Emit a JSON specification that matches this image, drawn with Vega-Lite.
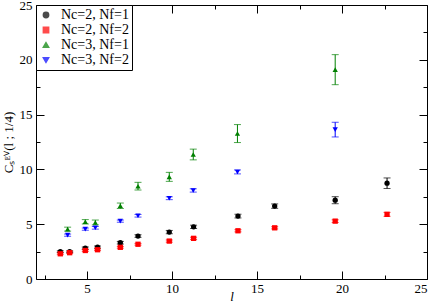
{
  "$schema": "https://vega.github.io/schema/vega-lite/v6.json",
  "width": 391,
  "height": 274,
  "autosize": {"type": "none"},
  "padding": {"left": 36, "top": 5, "right": 6, "bottom": 24},
  "config": {
    "view": {"stroke": "black", "strokeWidth": 1},
    "font": "Liberation Serif",
    "axis": {"grid": false, "domain": false, "ticks": true, "zindex": 2, "tickColor": "#000000", "tickOpacity": 1, "tickWidth": 1, "labelFont": "Liberation Serif", "labelFontSize": 13, "labelColor": "black", "titleFont": "Liberation Serif", "titleColor": "black", "titleFontSize": 14, "titleFontWeight": "normal"},
    "legend": {"labelFont": "Liberation Serif"}
  },
  "data": {"values": [
    {"series": "Nc=2, Nf=1", "x": 3.43, "y": 2.49, "lo": 2.41, "hi": 2.57},
    {"series": "Nc=2, Nf=1", "x": 3.98, "y": 2.49, "lo": 2.41, "hi": 2.57},
    {"series": "Nc=2, Nf=1", "x": 4.9, "y": 2.82, "lo": 2.72, "hi": 2.92},
    {"series": "Nc=2, Nf=1", "x": 5.62, "y": 2.91, "lo": 2.81, "hi": 3.01},
    {"series": "Nc=2, Nf=1", "x": 6.96, "y": 3.31, "lo": 3.19, "hi": 3.43},
    {"series": "Nc=2, Nf=1", "x": 8.0, "y": 3.92, "lo": 3.8, "hi": 4.04},
    {"series": "Nc=2, Nf=1", "x": 9.84, "y": 4.28, "lo": 4.13, "hi": 4.43},
    {"series": "Nc=2, Nf=1", "x": 11.27, "y": 4.76, "lo": 4.61, "hi": 4.91},
    {"series": "Nc=2, Nf=1", "x": 13.88, "y": 5.74, "lo": 5.57, "hi": 5.91},
    {"series": "Nc=2, Nf=1", "x": 16.04, "y": 6.65, "lo": 6.45, "hi": 6.85},
    {"series": "Nc=2, Nf=1", "x": 19.6, "y": 7.19, "lo": 6.87, "hi": 7.51},
    {"series": "Nc=2, Nf=1", "x": 22.65, "y": 8.74, "lo": 8.26, "hi": 9.22},
    {"series": "Nc=2, Nf=2", "x": 3.43, "y": 2.3, "lo": 2.22, "hi": 2.38},
    {"series": "Nc=2, Nf=2", "x": 3.98, "y": 2.4, "lo": 2.32, "hi": 2.48},
    {"series": "Nc=2, Nf=2", "x": 4.9, "y": 2.6, "lo": 2.52, "hi": 2.68},
    {"series": "Nc=2, Nf=2", "x": 5.62, "y": 2.67, "lo": 2.59, "hi": 2.75},
    {"series": "Nc=2, Nf=2", "x": 6.96, "y": 2.89, "lo": 2.81, "hi": 2.97},
    {"series": "Nc=2, Nf=2", "x": 8.0, "y": 3.17, "lo": 3.09, "hi": 3.25},
    {"series": "Nc=2, Nf=2", "x": 9.84, "y": 3.46, "lo": 3.36, "hi": 3.56},
    {"series": "Nc=2, Nf=2", "x": 11.27, "y": 3.71, "lo": 3.61, "hi": 3.81},
    {"series": "Nc=2, Nf=2", "x": 13.88, "y": 4.4, "lo": 4.3, "hi": 4.5},
    {"series": "Nc=2, Nf=2", "x": 16.04, "y": 4.67, "lo": 4.57, "hi": 4.77},
    {"series": "Nc=2, Nf=2", "x": 19.6, "y": 5.28, "lo": 5.16, "hi": 5.4},
    {"series": "Nc=2, Nf=2", "x": 22.65, "y": 5.9, "lo": 5.72, "hi": 6.08},
    {"series": "Nc=3, Nf=1", "x": 3.86, "y": 4.55, "lo": 4.37, "hi": 4.73},
    {"series": "Nc=3, Nf=1", "x": 4.9, "y": 5.22, "lo": 5.02, "hi": 5.42},
    {"series": "Nc=3, Nf=1", "x": 5.49, "y": 5.16, "lo": 4.94, "hi": 5.38},
    {"series": "Nc=3, Nf=1", "x": 6.96, "y": 6.68, "lo": 6.43, "hi": 6.93},
    {"series": "Nc=3, Nf=1", "x": 8.0, "y": 8.47, "lo": 8.12, "hi": 8.82},
    {"series": "Nc=3, Nf=1", "x": 9.84, "y": 9.32, "lo": 8.91, "hi": 9.73},
    {"series": "Nc=3, Nf=1", "x": 11.25, "y": 11.36, "lo": 10.87, "hi": 11.85},
    {"series": "Nc=3, Nf=1", "x": 13.85, "y": 13.27, "lo": 12.45, "hi": 14.09},
    {"series": "Nc=3, Nf=1", "x": 19.6, "y": 19.1, "lo": 17.73, "hi": 20.47},
    {"series": "Nc=3, Nf=2", "x": 3.86, "y": 4.0, "lo": 3.9, "hi": 4.1},
    {"series": "Nc=3, Nf=2", "x": 4.9, "y": 4.55, "lo": 4.45, "hi": 4.65},
    {"series": "Nc=3, Nf=2", "x": 5.49, "y": 4.67, "lo": 4.55, "hi": 4.79},
    {"series": "Nc=3, Nf=2", "x": 6.96, "y": 5.28, "lo": 5.18, "hi": 5.38},
    {"series": "Nc=3, Nf=2", "x": 8.0, "y": 5.77, "lo": 5.65, "hi": 5.89},
    {"series": "Nc=3, Nf=2", "x": 9.84, "y": 7.37, "lo": 7.24, "hi": 7.5},
    {"series": "Nc=3, Nf=2", "x": 11.25, "y": 8.08, "lo": 7.93, "hi": 8.23},
    {"series": "Nc=3, Nf=2", "x": 13.85, "y": 9.77, "lo": 9.59, "hi": 9.95},
    {"series": "Nc=3, Nf=2", "x": 19.6, "y": 13.63, "lo": 12.96, "hi": 14.3}
  ]},
  "layer": [
    {
      "mark": {"type": "rule", "strokeWidth": 1},
      "encoding": {
        "x": {"field": "x", "type": "quantitative", "scale": {"domain": [2, 25], "nice": false, "zero": false},
          "axis": {"orient": "bottom", "values": [5, 10, 15, 20, 25], "offset": -8, "tickSize": 8, "labelPadding": 3, "title": "l", "titleFontStyle": "italic", "titleFontSize": 13, "titlePadding": -5}},
        "y": {"field": "lo", "type": "quantitative", "scale": {"domain": [0, 25], "nice": false},
          "axis": {"orient": "left", "values": [0, 5, 10, 15, 20, 25], "offset": -8, "tickSize": 8, "labelPadding": 4, "title": "Cₛᴱⱽ(l ; 1/4)", "titleFontSize": 13, "titlePadding": 4}},
        "y2": {"field": "hi"},
        "color": {"field": "series", "type": "nominal", "title": null,
          "scale": {"domain": ["Nc=2, Nf=1", "Nc=2, Nf=2", "Nc=3, Nf=1", "Nc=3, Nf=2"], "range": ["black", "red", "green", "blue"]},
          "legend": {"orient": "top-left", "offset": 0, "zindex": 3, "strokeColor": "black", "fillColor": "white", "padding": 3, "labelFont": "Liberation Serif", "labelFontSize": 14, "labelColor": "black", "rowPadding": 1, "symbolSize": 28, "symbolOpacity": 1, "labelOffset": 8}}
      }
    },
    {
      "mark": {"type": "tick", "orient": "horizontal", "size": 7, "thickness": 1},
      "encoding": {
        "x": {"field": "x", "type": "quantitative",
          "axis": {"orient": "bottom", "values": [2.5, 7.5, 12.5, 17.5, 22.5], "offset": -4, "tickSize": 4, "labels": false, "title": null}},
        "y": {"field": "lo", "type": "quantitative",
          "axis": {"orient": "left", "values": [2.5, 7.5, 12.5, 17.5, 22.5], "offset": -4, "tickSize": 4, "labels": false, "title": null}},
        "color": {"field": "series", "type": "nominal"}
      }
    },
    {
      "mark": {"type": "tick", "orient": "horizontal", "size": 7, "thickness": 1},
      "encoding": {
        "x": {"field": "x", "type": "quantitative",
          "axis": {"orient": "top", "values": [5, 10, 15, 20, 25], "offset": -8, "tickSize": 8, "labels": false, "title": null}},
        "y": {"field": "hi", "type": "quantitative",
          "axis": {"orient": "right", "values": [0, 5, 10, 15, 20, 25], "offset": -8, "tickSize": 8, "labels": false, "title": null}},
        "color": {"field": "series", "type": "nominal"}
      }
    },
    {
      "mark": {"type": "point", "filled": true, "opacity": 1, "size": 28},
      "encoding": {
        "x": {"field": "x", "type": "quantitative",
          "axis": {"orient": "top", "values": [2.5, 7.5, 12.5, 17.5, 22.5], "offset": -4, "tickSize": 4, "labels": false, "title": null}},
        "y": {"field": "y", "type": "quantitative",
          "axis": {"orient": "right", "values": [2.5, 7.5, 12.5, 17.5, 22.5], "offset": -4, "tickSize": 4, "labels": false, "title": null}},
        "color": {"field": "series", "type": "nominal"},
        "shape": {"field": "series", "type": "nominal", "title": null,
          "scale": {"domain": ["Nc=2, Nf=1", "Nc=2, Nf=2", "Nc=3, Nf=1", "Nc=3, Nf=2"], "range": ["circle", "square", "triangle-up", "triangle-down"]}}
      }
    }
  ],
  "resolve": {"axis": {"x": "independent", "y": "independent"}}
}
